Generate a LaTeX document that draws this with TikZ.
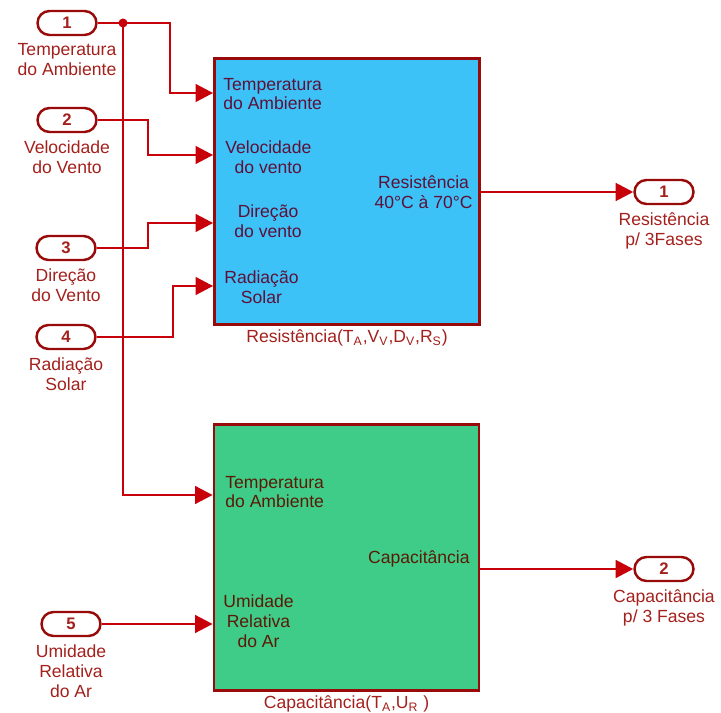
\documentclass[tikz,border=0pt]{standalone}
\usepackage{fontspec}
\setmainfont{Liberation Sans}
\usetikzlibrary{positioning,arrows.meta,shapes.misc}
\definecolor{mWire}{HTML}{C8000A}
\definecolor{mLabel}{HTML}{A3201C}
\definecolor{mEdge}{HTML}{990A0A}
\definecolor{mSky}{HTML}{3CC2F7}
\definecolor{mMint}{HTML}{3FCC88}
\definecolor{mPlum}{HTML}{5E1039}
\definecolor{mUmber}{HTML}{5A1A06}
\tikzset{
  port/.style={draw=mEdge, line width=1.4pt, fill=white, rounded rectangle, minimum width=1.18cm, minimum height=0.48cm, inner sep=0pt, text=mLabel, font=\bfseries\fontsize{9.5}{10}\selectfont},
  plabel/.style={text=mLabel, align=center, inner sep=1pt, font=\fontsize{10}{11.3}\selectfont},
  block/.style={draw=mEdge, line width=1.6pt, minimum width=5.3cm, minimum height=5.32cm, inner sep=0pt},
  inlabel/.style={align=center, inner sep=0pt, font=\fontsize{10}{11.3}\selectfont},
  wire/.style={draw=mWire, line width=1.6pt},
  feed/.style={wire, -{Triangle[length=10pt,width=10pt]}}
}
\begin{document}
\begin{tikzpicture}[x=0.02cm, y=-0.02cm]
\useasboundingbox (0,0) rectangle (721,713);
\node[block, fill=mSky] (res) at (347,191.5) {};
\node[block, fill=mMint] (cap) at (346.5,557.5) {};
\node[plabel, below=1pt of res] (resName) {Resistência(T\textsubscript{A},V\textsubscript{V},D\textsubscript{V},R\textsubscript{S})};
\node[plabel, below=1pt of cap] (capName) {Capacitância(T\textsubscript{A},U\textsubscript{R} )};

\node[inlabel, text=mPlum, anchor=west] (rT) at (223,94) {Temperatura\\do Ambiente};
\node[inlabel, text=mPlum, anchor=west] (rV) at (225,157) {Velocidade\\do vento};
\node[inlabel, text=mPlum, anchor=west] (rD) at (234,221) {Direção\\do vento};
\node[inlabel, text=mPlum, anchor=west] (rR) at (224,287) {Radiação\\Solar};
\node[inlabel, text=mPlum, anchor=east] (rOut) at (473,192) {Resistência\\40°C à 70°C};
\node[inlabel, text=mUmber, anchor=west] (cT) at (225,492) {Temperatura\\do Ambiente};
\node[inlabel, text=mUmber, anchor=west] (cU) at (223,621) {Umidade\\Relativa\\do Ar};
\node[inlabel, text=mUmber, anchor=east] (cOut) at (470,559) {Capacitância};

\node[port] (in1) at (67,23) {1};
\node[port] (in2) at (67,120) {2};
\node[port] (in3) at (66,248) {3};
\node[port] (in4) at (66,337) {4};
\node[port] (in5) at (71,624) {5};
\node[port] (out1) at (664,192) {1};
\node[port] (out2) at (664,569) {2};
\node[plabel, below=3pt of in1] (in1Name) {Temperatura\\do Ambiente};
\node[plabel, below=3pt of in2] (in2Name) {Velocidade\\do Vento};
\node[plabel, below=3pt of in3] (in3Name) {Direção\\do Vento};
\node[plabel, below=3pt of in4] (in4Name) {Radiação\\Solar};
\node[plabel, below=3pt of in5] (in5Name) {Umidade\\Relativa\\do Ar};
\node[plabel, below=3pt of out1] (out1Name) {Resistência\\p/ 3Fases};
\node[plabel, below=3pt of out2] (out2Name) {Capacitância\\p/ 3 Fases};

\coordinate (jT) at (123,23);
\draw[feed] (in1.east) -- (170,23) |- (res.west |- 0,93);
\draw[feed] (jT) |- (cap.west |- 0,495);
\fill[mWire] (jT) circle[radius=4.5];
\draw[feed] (in2.east) -- (148,120) |- (res.west |- 0,155);
\draw[feed] (in3.east) -- (148,248) |- (res.west |- 0,223);
\draw[feed] (in4.east) -- (173,337) |- (res.west |- 0,286);
\draw[feed] (in5.east) -- (cap.west |- in5);
\draw[feed] (res.east |- out1) -- (out1.west);
\draw[feed] (cap.east |- out2) -- (out2.west);
\end{tikzpicture}
\end{document}
